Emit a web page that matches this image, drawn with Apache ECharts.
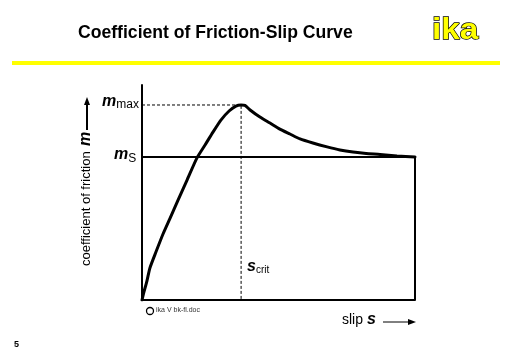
<!DOCTYPE html>
<html><head><meta charset="utf-8">
<script src="https://cdn.jsdelivr.net/npm/echarts@6/dist/echarts.min.js"></script>
<style>html,body{margin:0;padding:0;background:#fff}#c{width:512px;height:354px}</style>
</head><body><div id="c"></div>
<script>
// slip (normalised 0..1) and coefficient of friction (normalised 0..1)
const slip = [0, 0.007, 0.018, 0.029, 0.051, 0.077, 0.103, 0.132, 0.165, 0.201, 0.231, 0.260, 0.289, 0.319, 0.344, 0.363, 0.377, 0.396, 0.432, 0.469, 0.505, 0.542, 0.579, 0.626, 0.678, 0.725, 0.773, 0.821, 0.872, 0.934, 1.0];
const mu   = [0, 0.037, 0.088, 0.149, 0.223, 0.307, 0.381, 0.465, 0.558, 0.660, 0.721, 0.781, 0.837, 0.879, 0.902, 0.907, 0.905, 0.884, 0.851, 0.823, 0.795, 0.772, 0.749, 0.730, 0.712, 0.698, 0.688, 0.681, 0.677, 0.670, 0.665];
const muMax = 0.907;
const muS = 0.665;
const sCrit = 0.363;

const chart = echarts.init(document.getElementById('c'), null, {renderer: 'canvas'});
const F = 'Liberation Sans, Arial, sans-serif';
const curve = slip.map((s, i) => [s, mu[i]]);

chart.setOption({
  animation: false,
  backgroundColor: '#fff',
  grid: {left: 142, right: 97, top: 85, bottom: 54},
  xAxis: {type: 'value', min: 0, max: 1,
    axisLine: {show: true, lineStyle: {color: '#000', width: 2}},
    axisTick: {show: false}, axisLabel: {show: false}, splitLine: {show: false}},
  yAxis: {type: 'value', min: 0, max: 1,
    axisLine: {show: true, lineStyle: {color: '#000', width: 2}},
    axisTick: {show: false}, axisLabel: {show: false}, splitLine: {show: false}},
  series: [
    {type: 'line', data: [[0, muMax], [sCrit, muMax], [sCrit, 0]], symbol: 'none',
      lineStyle: {color: '#000', width: 1, type: [3, 2]}, z: 1},
    {type: 'line', data: [[0, muS], [1, muS], [1, 0]], symbol: 'none',
      lineStyle: {color: '#000', width: 2}, z: 2},
    {type: 'line', data: curve, symbol: 'none', smooth: 0.2,
      lineStyle: {color: '#000', width: 3, cap: 'round', join: 'round'}, z: 3}
  ],
  graphic: [
    {type: 'text', left: 78, top: 24, style: {text: 'Coefficient of Friction-Slip Curve',
      font: 'bold 17.6px ' + F, fill: '#000'}},
    {type: 'text', x: 432, y: 16, scaleX: 1.15, style: {text: 'ika', font: 'bold 29px ' + F,
      fill: '#ffff00', stroke: '#000', lineWidth: 1.3}},
    {type: 'rect', shape: {x: 12, y: 61, width: 488, height: 4}, style: {fill: '#ffff00'}},
    // mu max label
    {type: 'text', left: 102, top: 94, style: {text: '{m|m}{s|max}',
      rich: {m: {font: 'bold italic 16px ' + F, fill: '#000'}, s: {font: '12px ' + F, fill: '#000', padding: [6, 0, 0, 0]}}}},
    // mu S label
    {type: 'text', left: 114, top: 147, style: {text: '{m|m}{s|S}',
      rich: {m: {font: 'bold italic 16px ' + F, fill: '#000'}, s: {font: '12px ' + F, fill: '#000', padding: [8, 0, 0, 0]}}}},
    // s crit label
    {type: 'text', left: 247, top: 259, style: {text: '{m|s}{s|crit}',
      rich: {m: {font: 'bold italic 16px ' + F, fill: '#000'}, s: {font: '10px ' + F, fill: '#000', padding: [6, 0, 0, 0]}}}},
    // y axis title
    {type: 'text', x: 86, y: 266, rotation: Math.PI / 2, style: {text: 'coefficient of friction', font: '13px ' + F,
      fill: '#000', align: 'left', verticalAlign: 'middle'}},
    {type: 'text', x: 86, y: 139, rotation: Math.PI / 2, style: {text: 'm', font: 'bold italic 16px ' + F,
      fill: '#000', align: 'center', verticalAlign: 'middle'}},
    {type: 'line', shape: {x1: 87, y1: 130, x2: 87, y2: 103}, style: {stroke: '#000', lineWidth: 2}},
    {type: 'polygon', shape: {points: [[84, 105], [90, 105], [87, 97]]}, style: {fill: '#000'}},
    // slip label
    {type: 'text', left: 342, top: 312, style: {text: '{a|slip }{b|s}',
      rich: {a: {font: '14px ' + F, fill: '#000'}, b: {font: 'bold italic 16px ' + F, fill: '#000'}}}},
    {type: 'line', shape: {x1: 383, y1: 322, x2: 410, y2: 322}, style: {stroke: '#000', lineWidth: 1}},
    {type: 'polygon', shape: {points: [[408, 319], [408, 325], [416, 322]]}, style: {fill: '#000'}},
    // copyright
    {type: 'circle', shape: {cx: 150, cy: 311, r: 3.5}, style: {fill: 'none', stroke: '#000', lineWidth: 1.3}},
    {type: 'text', left: 156, top: 307, style: {text: 'ika V bk-fl.doc', font: '7px ' + F, fill: '#333'}},
    {type: 'text', left: 14, top: 340, style: {text: '5', font: 'bold 9px ' + F, fill: '#000'}}
  ]
});
</script></body></html>
